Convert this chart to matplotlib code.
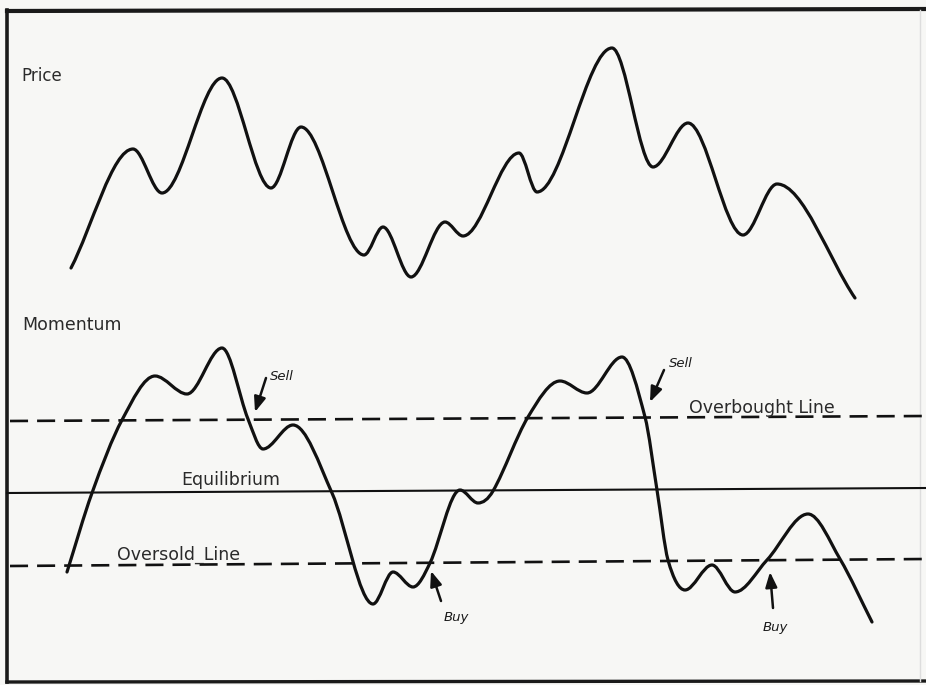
import numpy as np
import matplotlib.pyplot as plt
from matplotlib.path import Path
from matplotlib.patches import PathPatch

plt.rcParams['lines.scale_dashes'] = False

# points (x, y in pixel units, y downwards)
price_x = [71, 133, 162, 222, 271, 301, 364, 383, 411, 445, 463, 519, 537, 612, 653, 688, 743, 777, 855]
price_y = [268, 149, 193, 78, 188, 127, 255, 227, 277, 222, 236, 153, 192, 48, 167, 123, 235, 184, 298]

mom_x = [67, 92, 122, 155, 187, 222, 248, 263, 293, 332, 373, 393, 413, 430, 460, 478, 493, 528,
         560, 587, 622, 645, 657, 668, 685, 712, 735, 767, 808, 840, 872]
mom_y = [572, 493, 420, 376, 394, 348, 419, 449, 425, 493, 604, 572, 587, 563, 490, 503, 491, 417,
         381, 393, 357, 417, 490, 560, 590, 565, 592, 560, 514, 559, 622]

# reference lines (left y, right y) - scan is slightly tilted
overbought = (421, 416)
equilibrium = (493, 488)
oversold = (566, 559)

signals = [
    # label, text pos, arrow tail, arrow tip
    ('Sell', (282, 376), (266, 378), (255, 412)),
    ('Sell', (681, 363), (664, 370), (650, 402)),
    ('Buy', (456, 618), (441, 601), (431, 571)),
    ('Buy', (775, 628), (773, 608), (770, 572)),
]


def smooth_path(xs, ys):
    # cubic bezier through the points, flat tangent at the turning points
    n = len(xs)
    verts = [(xs[0], ys[0])]
    codes = [Path.MOVETO]
    tang = []
    for i in range(n):
        if i == 0:
            tx, ty = xs[1] - xs[0], ys[1] - ys[0]
        elif i == n - 1:
            tx, ty = xs[-1] - xs[-2], ys[-1] - ys[-2]
        else:
            tx = (xs[i + 1] - xs[i - 1]) / 2
            ty = (ys[i + 1] - ys[i - 1]) / 2
            if (ys[i] - ys[i - 1]) * (ys[i + 1] - ys[i]) <= 0:
                ty = 0
        tang.append((tx, ty))
    for i in range(n - 1):
        h = (xs[i + 1] - xs[i]) / max(tang[i][0], 1e-6) / 3
        h2 = (xs[i + 1] - xs[i]) / max(tang[i + 1][0], 1e-6) / 3
        c1 = (xs[i] + tang[i][0] * h, ys[i] + tang[i][1] * h)
        c2 = (xs[i + 1] - tang[i + 1][0] * h2, ys[i + 1] - tang[i + 1][1] * h2)
        verts += [c1, c2, (xs[i + 1], ys[i + 1])]
        codes += [Path.CURVE4] * 3
    return Path(verts, codes)


fig = plt.figure(figsize=(9.26, 6.85), dpi=100)
fig.patch.set_facecolor('#f7f7f5')
ax = fig.add_axes([0, 0, 1, 1])
ax.set_xlim(0, 926)
ax.set_ylim(685, 0)
ax.axis('off')

# frame of the page
ax.plot([7, 7], [10, 682], color='#1a1a1a', lw=2.6)
ax.plot([7, 926], [11, 9], color='#1a1a1a', lw=3.0)
ax.plot([7, 926], [682, 681], color='#1a1a1a', lw=2.4)
ax.plot([920, 920], [10, 681], color='#dddddd', lw=1.0)

# reference lines
for lvl in (overbought, oversold):
    ln, = ax.plot([10, 926], lvl, color='#111111', lw=1.9)
    ln.set_dashes([13, 6.5])
ax.plot([7, 926], equilibrium, color='#111111', lw=1.5)

# curves
for xs, ys in ((price_x, price_y), (mom_x, mom_y)):
    ax.add_patch(PathPatch(smooth_path(xs, ys), fill=False, edgecolor='#111111',
                           lw=2.3, capstyle='round', joinstyle='round'))

txt = dict(color='#2a2a2a', fontsize=12.5, family='DejaVu Sans')
ax.text(21, 76, 'Price', va='center', ha='left', fontsize=12, color='#2a2a2a')
ax.text(22, 325, 'Momentum', va='center', ha='left', **txt)
ax.text(231, 480, 'Equilibrium', va='center', ha='center', **txt)
ax.text(117, 555, 'Oversold_Line', va='center', ha='left', **txt)
ax.text(689, 408, 'Overbought Line', va='center', ha='left', **txt)

for label, tpos, tail, tip in signals:
    ax.text(tpos[0], tpos[1], label, ha='center', va='center', fontsize=9.5,
            style='italic', color='#1a1a1a')
    ax.annotate('', xy=tip, xytext=tail,
                arrowprops=dict(arrowstyle='-|>,head_length=0.9,head_width=0.35',
                                color='#111111', lw=1.8, shrinkA=0, shrinkB=0))

fig.savefig('out.png', dpi=100, facecolor=fig.get_facecolor())
